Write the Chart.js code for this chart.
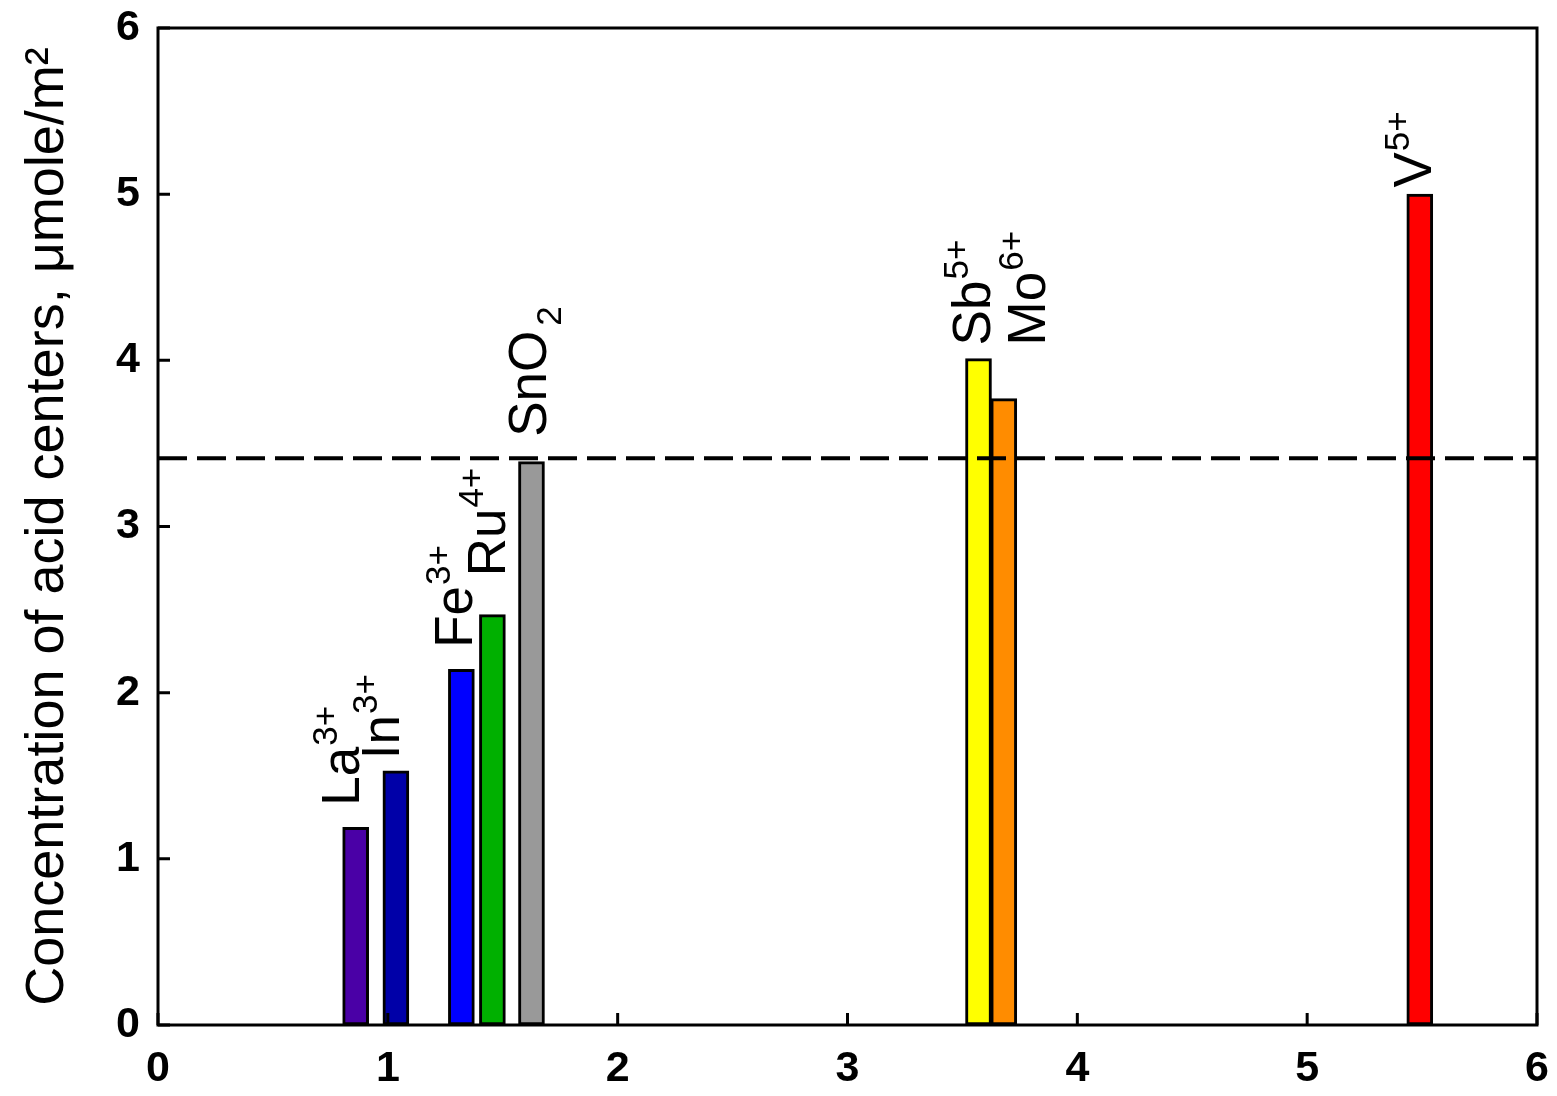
<!DOCTYPE html>
<html>
<head>
<meta charset="utf-8">
<script src="https://cdn.jsdelivr.net/npm/chart.js@4.4.0/dist/chart.umd.min.js"></script>
<style>
  body { margin: 0; background: #fff; }
  canvas { display: block; }
</style>
</head>
<body>
<canvas id="myChart" width="1557" height="1096"></canvas>
<script>
// data
var ions = ["La", "In", "Fe", "Ru", "SnO", "Sb", "Mo", "V"];
var ionSup = ["3+", "3+", "3+", "4+", "", "5+", "6+", "5+"];
var ionSub = ["", "", "", "", "2", "", "", ""];
var xValues = [0.86, 1.035, 1.32, 1.455, 1.625, 3.57, 3.68, 5.49];
var yValues = [1.19, 1.53, 2.14, 2.47, 3.39, 4.01, 3.77, 5.0];
var barColors = ["#4a00a6", "#0000a8", "#0000ff", "#00b000", "#999999", "#ffff00", "#ff8c00", "#ff0000"];
// where each rotated label starts (data units: baseline x, bottom y)
var labelX = [0.875, 1.05, 1.365, 1.51, 1.69, 3.62, 3.86, 5.54];
var labelY = [1.32, 1.60, 2.27, 2.70, 3.54, 4.09, 4.09, 5.04];
var xTicks = [0, 1, 2, 3, 4, 5, 6];
var yTicks = [0, 1, 2, 3, 4, 5, 6];
var refLine = 3.41;

var FONT = "Arial, 'Liberation Sans', sans-serif";

var points = xValues.map(function(x, i){ return {x: x, y: yValues[i]}; });

// frame, inward ticks, dashed line and ion labels
var decor = {
  id: "decor",
  afterDatasetsDraw: function(chart){
    var ctx = chart.ctx, a = chart.chartArea;
    var xs = chart.scales.x, ys = chart.scales.y;
    ctx.save();

    // dashed reference line
    var yy = ys.getPixelForValue(refLine);
    ctx.strokeStyle = "#000";
    ctx.lineWidth = 4;
    ctx.setLineDash([29, 10]);
    ctx.beginPath();
    ctx.moveTo(a.left, yy);
    ctx.lineTo(a.right, yy);
    ctx.stroke();
    ctx.setLineDash([]);

    // frame
    ctx.lineWidth = 3;
    ctx.strokeRect(a.left, a.top, a.right - a.left, a.bottom - a.top);

    // inward ticks
    ctx.beginPath();
    xTicks.forEach(function(t){
      var px = xs.getPixelForValue(t);
      ctx.moveTo(px, a.bottom);
      ctx.lineTo(px, a.bottom - 12);
    });
    yTicks.forEach(function(t){
      var py = ys.getPixelForValue(t);
      ctx.moveTo(a.left, py);
      ctx.lineTo(a.left + 12, py);
    });
    ctx.stroke();

    // rotated ion labels
    ctx.fillStyle = "#000";
    ctx.textBaseline = "alphabetic";
    ctx.textAlign = "left";
    ions.forEach(function(name, i){
      var px = xs.getPixelForValue(labelX[i]);
      var py = ys.getPixelForValue(labelY[i]);
      ctx.save();
      ctx.translate(px, py);
      ctx.rotate(-Math.PI / 2);
      ctx.font = "53px " + FONT;
      ctx.fillText(name, 0, 0);
      var w = ctx.measureText(name).width + 1;
      ctx.font = "35px " + FONT;
      if (ionSup[i]) ctx.fillText(ionSup[i], w, -22);
      if (ionSub[i]) ctx.fillText(ionSub[i], w + 4, 15);
      ctx.restore();
    });

    ctx.restore();
  }
};

var ctx = document.getElementById("myChart").getContext("2d");
var myChart = new Chart(ctx, {
  type: "bar",
  data: {
    datasets: [{
      data: points,
      backgroundColor: barColors,
      borderColor: "#000",
      borderWidth: 3,
      borderSkipped: false,
      barThickness: 26
    }]
  },
  options: {
    responsive: false,
    animation: false,
    layout: { padding: { top: 28, right: 20, left: 0, bottom: 0 } },
    plugins: { legend: { display: false }, tooltip: { enabled: false } },
    scales: {
      x: {
        type: "linear",
        min: 0, max: 6,
        offset: false,
        grid: { display: false, drawTicks: false },
        border: { display: false },
        afterBuildTicks: function(s){ s.ticks = xTicks.map(function(v){ return {value: v}; }); },
        afterFit: function(s){ s.height = 71; s.paddingLeft = 0; s.paddingRight = 0; },
        ticks: { padding: 18, color: "#000", font: { family: FONT, size: 43, weight: "bold" }, maxRotation: 0 }
      },
      y: {
        min: 0, max: 6,
        grid: { display: false, drawTicks: false },
        border: { display: false },
        afterBuildTicks: function(s){ s.ticks = yTicks.map(function(v){ return {value: v}; }); },
        afterFit: function(s){ s.width = 158; s.paddingTop = 0; s.paddingBottom = 0; },
        ticks: { padding: 18, color: "#000", font: { family: FONT, size: 43, weight: "bold" } },
        title: {
          display: true,
          text: "Concentration of acid centers, \u03bcmole/m\u00b2",
          color: "#000",
          font: { family: FONT, size: 54 },
          padding: { top: 16, bottom: 0 }
        }
      }
    }
  },
  plugins: [decor]
});
</script>
</body>
</html>
